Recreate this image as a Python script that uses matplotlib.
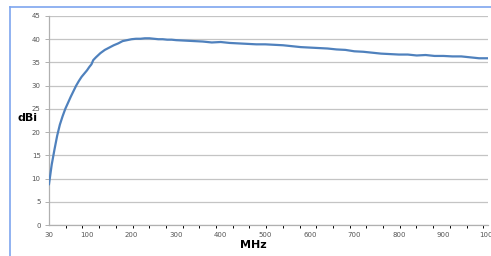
import numpy as np
import matplotlib
matplotlib.use("Agg")
import matplotlib.pyplot as plt
from matplotlib.patches import Rectangle

freq = [30, 35, 40, 45, 50, 55, 60, 65, 70, 75, 80, 85, 90, 95, 100, 105, 110, 114, 120,
        130, 140, 150, 160, 170, 180, 190, 200, 210, 220, 230, 240, 250, 260, 270, 280, 290,
        300, 320, 340, 360, 380, 400, 420, 440, 460, 480, 500, 520, 540, 560, 580, 600,
        620, 640, 660, 680, 700, 720, 740, 760, 780, 800, 820, 840, 860, 880, 900, 920,
        940, 960, 980, 1000]
gain = [8.8, 13.0, 16.2, 19.2, 21.6, 23.4, 25.0, 26.3, 27.6, 28.8, 30.0, 31.0, 31.9, 32.6,
        33.3, 34.0, 34.6, 35.5, 36.1, 37.0, 37.7, 38.2, 38.7, 39.1, 39.6, 39.8, 40.0, 40.1,
        40.1, 40.2, 40.2, 40.1, 40.0, 40.0, 39.9, 39.9, 39.8, 39.7, 39.6, 39.5, 39.3, 39.4,
        39.2, 39.1, 39.0, 38.9, 38.9, 38.8, 38.7, 38.5, 38.3, 38.2, 38.1, 38.0, 37.8, 37.7,
        37.4, 37.3, 37.1, 36.9, 36.8, 36.7, 36.7, 36.5, 36.6, 36.4, 36.4, 36.3, 36.3, 36.1,
        35.9, 35.9]
xticks = [30, 100, 200, 300, 400, 500, 600, 700, 800, 900, 1000]
yticks = list(range(0, 50, 5))


# category-style x axis: the first segment (30-100) is stretched
def fwd(f):
    f = np.asarray(f, dtype=float)
    return np.where(f < 100, (f - 30) * 38 / 70, 38 + (f - 100) * 401 / 900)


def inv(u):
    u = np.asarray(u, dtype=float)
    return np.where(u < 38, 30 + u * 70 / 38, 100 + (u - 38) * 900 / 401)


fig = plt.figure(figsize=(4.91, 2.56), dpi=100)
ax = fig.add_axes([49 / 491, 1 - 225 / 256, 439 / 491, 209 / 256])

ax.set_xscale('function', functions=(fwd, inv))
ax.plot(freq, gain, color='#4f81bd', lw=1.6, zorder=3)

ax.set_xlim(30, 1000)
ax.set_ylim(0, 45)
ax.set_yticks(yticks)
ax.set_xticks(xticks)
ax.set_xticklabels([str(t) for t in xticks])
ax.set_xticks(inv(np.arange(0, 440, 16.7)), minor=True)

ax.grid(axis='y', color='#c4c4c4', lw=0.9)
ax.set_axisbelow(True)
for s in ['top', 'right']:
    ax.spines[s].set_visible(False)
for s in ['left', 'bottom']:
    ax.spines[s].set_color('#b0b0b0')
    ax.spines[s].set_linewidth(0.9)

ax.tick_params(axis='both', labelsize=5, colors='#b0b0b0', labelcolor='#555555')
ax.tick_params(axis='x', which='major', length=0, pad=5)
ax.tick_params(axis='x', which='minor', length=2.5, width=0.7, direction='out')
ax.tick_params(axis='y', length=3, width=0.7, pad=3)

fig.text(27 / 491, 1 - 118 / 256, 'dBi', fontsize=8, fontweight='bold', ha='center', va='center')
fig.text(253 / 491, 1 - 245 / 256, 'MHz', fontsize=8, fontweight='bold', ha='center', va='center')

# light blue frame of the chart object
fig.add_artist(plt.Line2D([10 / 491, 10 / 491], [0, 1 - 7 / 256], color='#7ea6ef', lw=1.2,
                          transform=fig.transFigure))
fig.add_artist(plt.Line2D([10 / 491, 1], [1 - 7 / 256, 1 - 7 / 256], color='#7ea6ef', lw=1.2,
                          transform=fig.transFigure))

fig.savefig('out.png', dpi=100)
